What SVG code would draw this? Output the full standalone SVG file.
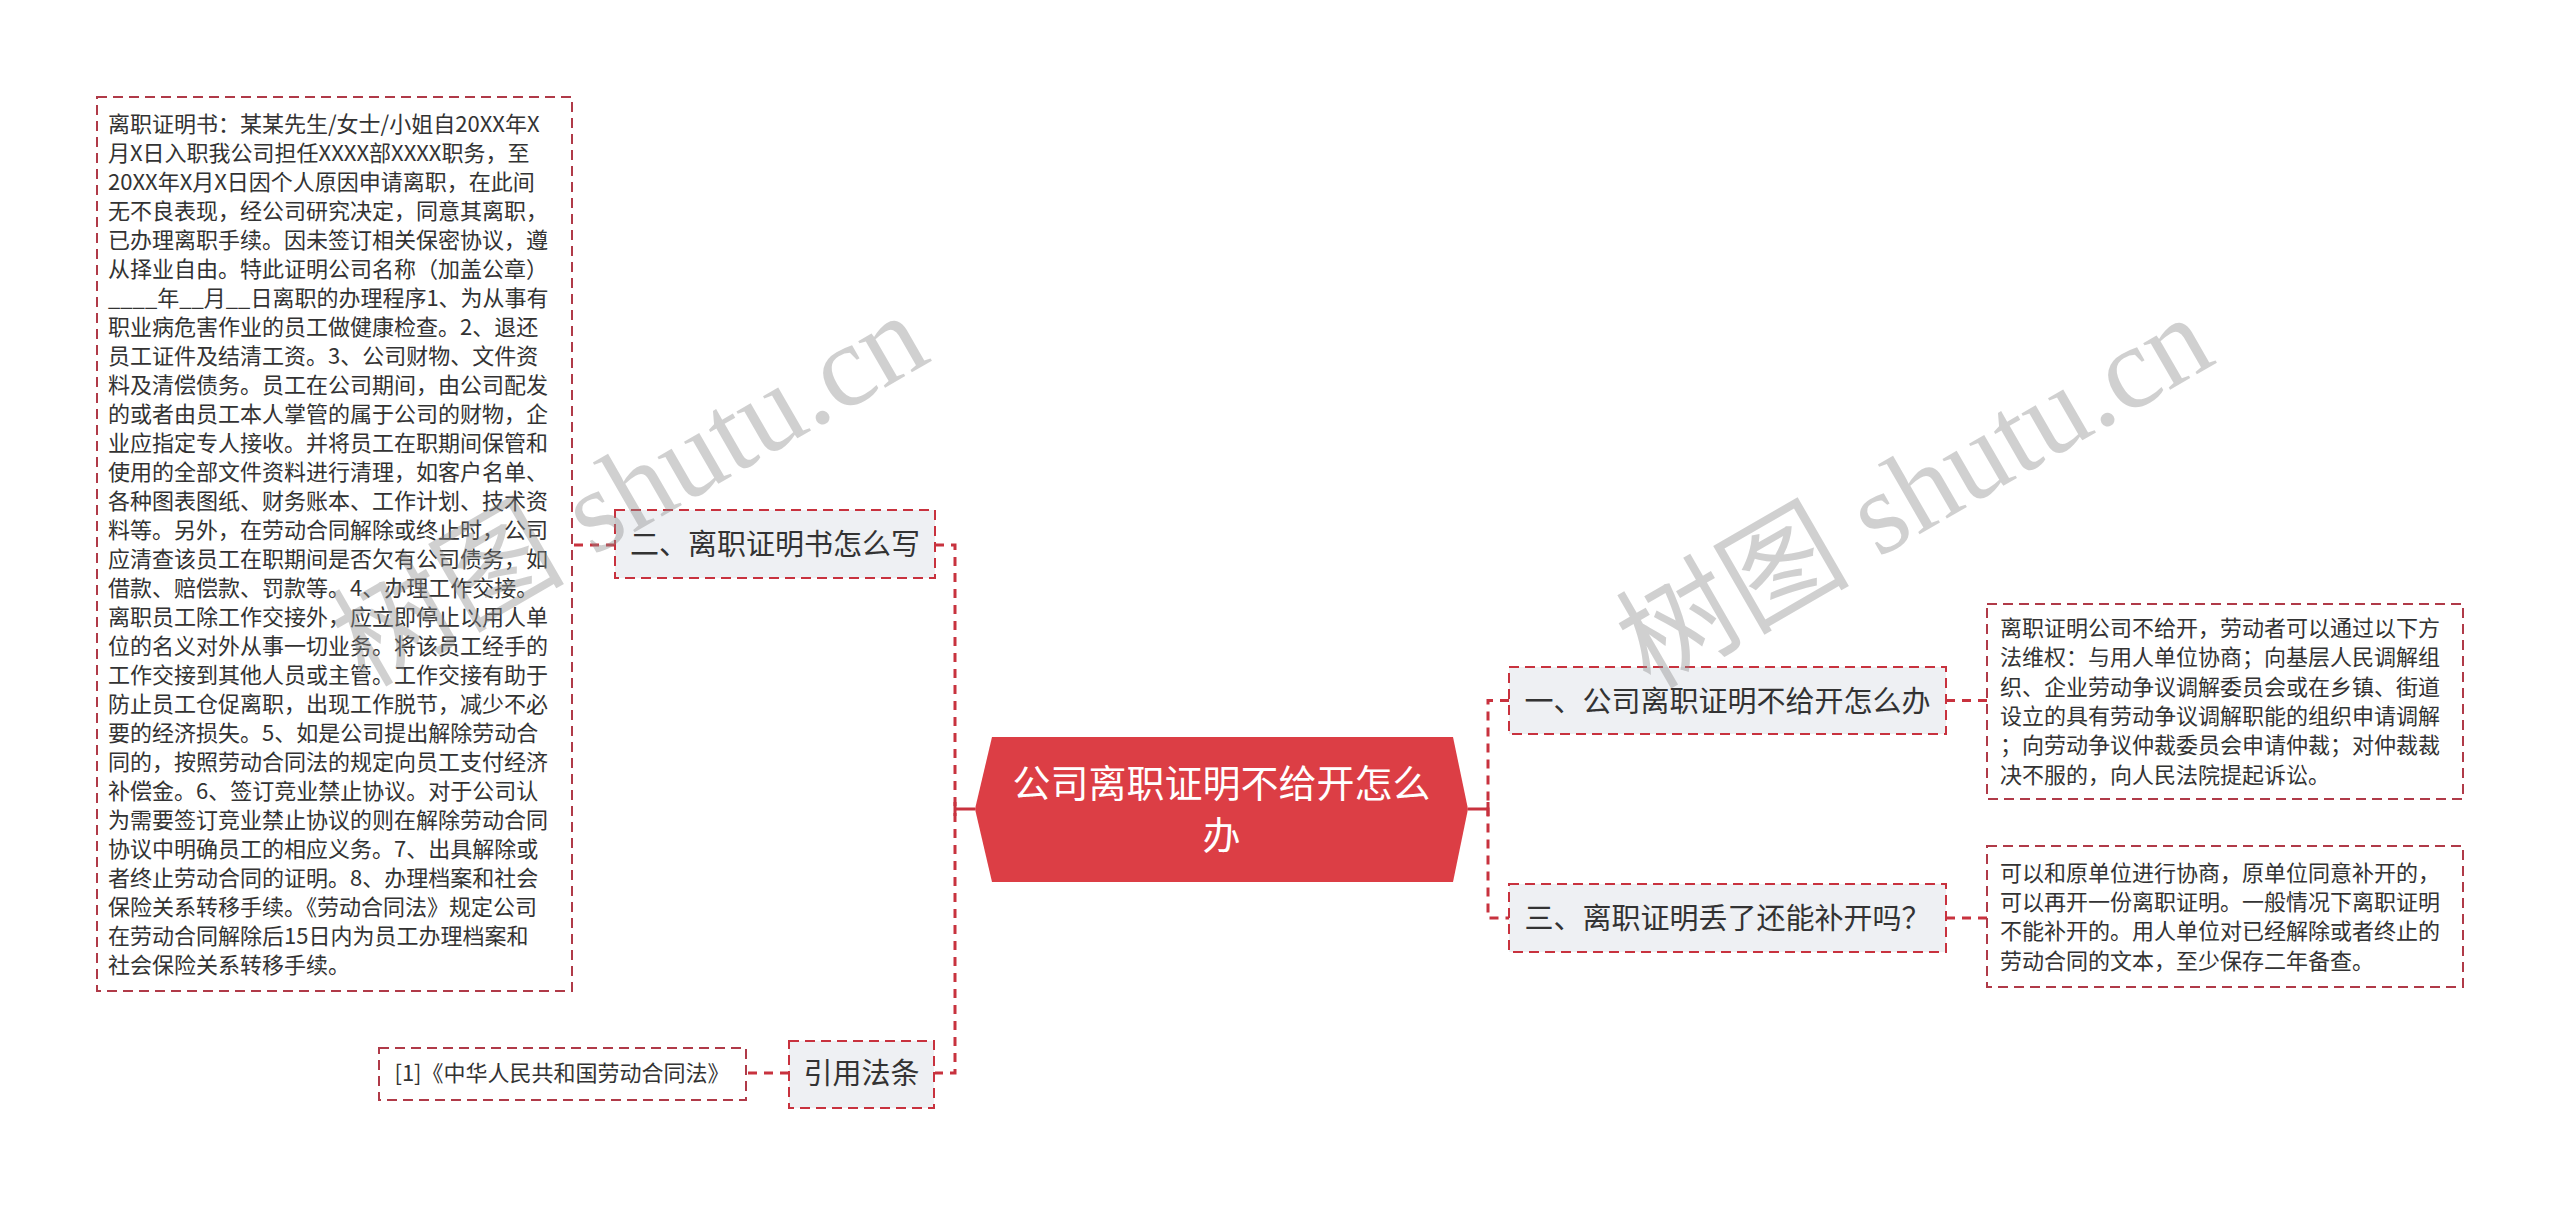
<svg xmlns="http://www.w3.org/2000/svg" width="2560" height="1205" viewBox="0 0 2560 1205">
<style>
.t{font-family:"Noto Sans CJK SC","Liberation Sans",sans-serif;fill:#333}
.leaf{font-size:22px}
.node{font-size:29px;text-anchor:middle}
.nbox{fill:#eef0f3;stroke:#c8323e;stroke-width:2;stroke-dasharray:10 6}
.lbox{fill:#fff;stroke:#b03a48;stroke-width:2;stroke-dasharray:10 6}
.dash{fill:none;stroke:#c8323e;stroke-width:3;stroke-dasharray:9 7}
.solid{fill:none;stroke:#c8323e;stroke-width:3}
.wm{font-family:"Liberation Serif","Noto Sans CJK SC",serif;font-size:117px;fill:#8c8c8c;opacity:0.4}
</style>
<rect width="2560" height="1205" fill="#ffffff"/>
<g id="connectors">
<path class="solid" d="M975,809 H955 M955,802 V816"/>
<path class="dash" d="M935,545 H955 V1073 H935"/>
<path class="solid" d="M1468,809 H1488 M1488,802 V816"/>
<path class="dash" d="M1509,700.5 H1488 V918 H1509"/>
<path class="dash" d="M615,545 H572"/>
<path class="dash" d="M789,1073 H746"/>
<path class="dash" d="M1946,700.5 H1987"/>
<path class="dash" d="M1946,918 H1987"/>
</g>
<g id="center">
<polygon points="992,737 1453,737 1468,809 1453,882 992,882 975,809" fill="#dc3e45"/>
<text x="1221.5" y="797" font-family="Noto Sans CJK SC,sans-serif" font-size="38" fill="#fff" text-anchor="middle">公司离职证明不给开怎么</text>
<text x="1221.5" y="849" font-family="Noto Sans CJK SC,sans-serif" font-size="38" fill="#fff" text-anchor="middle">办</text>
</g>
<g id="n1">
<rect class="nbox" x="1509" y="667" width="437" height="67"/>
<text class="t node" x="1727.5" y="712">一、公司离职证明不给开怎么办</text>
</g>
<g id="n3">
<rect class="nbox" x="1509" y="884" width="437" height="68"/>
<text class="t node" x="1727.5" y="929">三、离职证明丢了还能补开吗？</text>
</g>
<g id="n2">
<rect class="nbox" x="615" y="510" width="320" height="68"/>
<text class="t node" x="775" y="555">二、离职证明书怎么写</text>
</g>
<g id="n4">
<rect class="nbox" x="789" y="1041" width="145" height="67"/>
<text class="t node" x="861.5" y="1084">引用法条</text>
</g>
<g id="leaf1">
<rect class="lbox" x="1987" y="604" width="476" height="195"/>
<text class="t leaf" x="2000">
<tspan x="2000" y="636">离职证明公司不给开，劳动者可以通过以下方</tspan>
<tspan x="2000" y="665.3">法维权：与用人单位协商；向基层人民调解组</tspan>
<tspan x="2000" y="694.6">织、企业劳动争议调解委员会或在乡镇、街道</tspan>
<tspan x="2000" y="724">设立的具有劳动争议调解职能的组织申请调解</tspan>
<tspan x="2000" y="753.3">；向劳动争议仲裁委员会申请仲裁；对仲裁裁</tspan>
<tspan x="2000" y="782.6">决不服的，向人民法院提起诉讼。</tspan>
</text>
</g>
<g id="leaf3">
<rect class="lbox" x="1987" y="846" width="476" height="141"/>
<text class="t leaf">
<tspan x="2000" y="880.5">可以和原单位进行协商，原单位同意补开的，</tspan>
<tspan x="2000" y="909.8">可以再开一份离职证明。一般情况下离职证明</tspan>
<tspan x="2000" y="939.2">不能补开的。用人单位对已经解除或者终止的</tspan>
<tspan x="2000" y="968.5">劳动合同的文本，至少保存二年备查。</tspan>
</text>
</g>
<g id="leaf4">
<rect class="lbox" x="379" y="1048" width="367" height="52"/>
<text class="t leaf" x="562" y="1081" text-anchor="middle">[1]《中华人民共和国劳动合同法》</text>
</g>
<g id="leaf2">
<rect class="lbox" x="97" y="97" width="475" height="894"/>
<text class="t leaf">
<tspan x="108" y="131.5">离职证明书：某某先生/女士/小姐自20XX年X</tspan>
<tspan x="108" y="160.5">月X日入职我公司担任XXXX部XXXX职务，至</tspan>
<tspan x="108" y="189.5">20XX年X月X日因个人原因申请离职，在此间</tspan>
<tspan x="108" y="218.5">无不良表现，经公司研究决定，同意其离职，</tspan>
<tspan x="108" y="247.5">已办理离职手续。因未签订相关保密协议，遵</tspan>
<tspan x="108" y="276.5">从择业自由。特此证明公司名称（加盖公章）</tspan>
<tspan x="108" y="305.5">____年__月__日离职的办理程序1、为从事有</tspan>
<tspan x="108" y="334.5">职业病危害作业的员工做健康检查。2、退还</tspan>
<tspan x="108" y="363.5">员工证件及结清工资。3、公司财物、文件资</tspan>
<tspan x="108" y="392.5">料及清偿债务。员工在公司期间，由公司配发</tspan>
<tspan x="108" y="421.5">的或者由员工本人掌管的属于公司的财物，企</tspan>
<tspan x="108" y="450.5">业应指定专人接收。并将员工在职期间保管和</tspan>
<tspan x="108" y="479.5">使用的全部文件资料进行清理，如客户名单、</tspan>
<tspan x="108" y="508.5">各种图表图纸、财务账本、工作计划、技术资</tspan>
<tspan x="108" y="537.5">料等。另外，在劳动合同解除或终止时，公司</tspan>
<tspan x="108" y="566.5">应清查该员工在职期间是否欠有公司债务，如</tspan>
<tspan x="108" y="595.5">借款、赔偿款、罚款等。4、办理工作交接。</tspan>
<tspan x="108" y="624.5">离职员工除工作交接外，应立即停止以用人单</tspan>
<tspan x="108" y="653.5">位的名义对外从事一切业务。将该员工经手的</tspan>
<tspan x="108" y="682.5">工作交接到其他人员或主管。工作交接有助于</tspan>
<tspan x="108" y="711.5">防止员工仓促离职，出现工作脱节，减少不必</tspan>
<tspan x="108" y="740.5">要的经济损失。5、如是公司提出解除劳动合</tspan>
<tspan x="108" y="769.5">同的，按照劳动合同法的规定向员工支付经济</tspan>
<tspan x="108" y="798.5">补偿金。6、签订竞业禁止协议。对于公司认</tspan>
<tspan x="108" y="827.5">为需要签订竞业禁止协议的则在解除劳动合同</tspan>
<tspan x="108" y="856.5">协议中明确员工的相应义务。7、出具解除或</tspan>
<tspan x="108" y="885.5">者终止劳动合同的证明。8、办理档案和社会</tspan>
<tspan x="108" y="914.5">保险关系转移手续。《劳动合同法》规定公司</tspan>
<tspan x="108" y="943.5">在劳动合同解除后15日内为员工办理档案和</tspan>
<tspan x="108" y="972.5">社会保险关系转移手续。</tspan>
</text>
</g>
<g id="watermark">
<text class="wm" x="365" y="688" transform="rotate(-30 365 688)">树图 shutu.cn</text>
<text class="wm" x="1650" y="690" transform="rotate(-30 1650 690)">树图 shutu.cn</text>
</g>
</svg>
